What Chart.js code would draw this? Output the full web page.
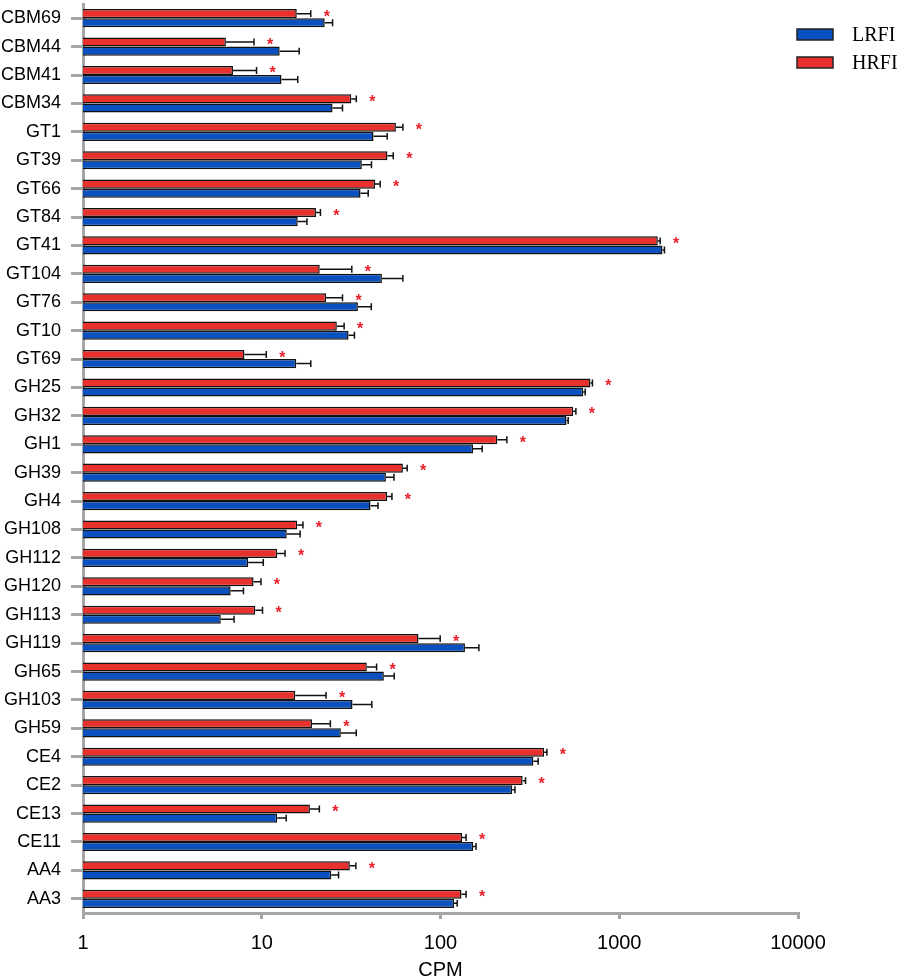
<!DOCTYPE html>
<html>
<head>
<meta charset="utf-8">
<script src="https://cdn.jsdelivr.net/npm/chart.js"></script>
<style>
  body { margin: 0; background: #fff; }
  canvas { display: block; }
</style>
</head>
<body>
<canvas id="TAG" width="903" height="980"></canvas>
<script>
var labels = ["CBM69", "CBM44", "CBM41", "CBM34", "GT1", "GT39", "GT66", "GT84", "GT41", "GT104", "GT76", "GT10", "GT69",
  "GH25", "GH32", "GH1", "GH39", "GH4", "GH108", "GH112", "GH120", "GH113", "GH119", "GH65", "GH103", "GH59",
  "CE4", "CE2", "CE13", "CE11", "AA4", "AA3"];

var lrfi = [22.5, 12.6, 12.9, 24.9, 42.2, 36.3, 35.7, 15.9, 1745, 47.0, 34.5, 30.6, 15.6,
  628, 507, 152, 49.5, 40.6, 13.8, 8.4, 6.7, 5.9, 137, 48.2, 32.2, 27.7,
  331, 252, 12.2, 152, 24.5, 119];
var lrfiErr = [2.4, 3.6, 3.0, 3.4, 8.1, 4.8, 3.7, 2.0, 45, 14.6, 6.5, 2.4, 3.2,
  17, 11, 19, 5.4, 4.1, 2.6, 1.8, 1.2, 1.1, 27, 6.9, 9.1, 6.1,
  21, 9, 1.5, 6, 2.4, 5];

var hrfi = [15.7, 6.3, 6.9, 31.7, 56.3, 50.5, 43.0, 20.1, 1643, 21.1, 22.9, 26.3, 8.0,
  690, 552, 208, 61.6, 50.3, 15.8, 12.2, 9.0, 9.2, 75.3, 38.7, 15.4, 19.1,
  380, 288, 18.6, 132, 31.1, 131];
var hrfiErr = [3.1, 2.75, 2.45, 2.1, 5.3, 3.9, 3.0, 1.2, 51, 10.8, 5.4, 2.6, 2.6,
  18, 20, 27, 3.5, 3.2, 1.2, 1.3, 0.9, 0.9, 24.3, 5.2, 7.5, 5.1,
  14, 11, 2.4, 7, 2.5, 8];

var xTicks = [1, 10, 100, 1000, 10000];

var BLUE = "#0b50bf";
var RED = "#e8302d";
var AXIS = "#a6a6a6";

// error bars (mean + sem) drawn with the x scale
var errorBars = {
  id: "errorBars",
  afterDatasetsDraw: function (chart) {
    var ctx = chart.ctx;
    var xs = chart.scales.x;
    ctx.save();
    ctx.strokeStyle = "#111";
    ctx.lineWidth = 1.5;
    chart.data.datasets.forEach(function (ds, di) {
      var meta = chart.getDatasetMeta(di);
      meta.data.forEach(function (bar, i) {
        var x1 = xs.getPixelForValue(ds.data[i] + ds.err[i]);
        var h = bar.height * 0.38;
        ctx.beginPath();
        ctx.moveTo(bar.x, bar.y);
        ctx.lineTo(x1, bar.y);
        ctx.moveTo(x1, bar.y - h);
        ctx.lineTo(x1, bar.y + h);
        ctx.stroke();
      });
    });
    // significance stars next to the HRFI bar
    var ds = chart.data.datasets[0];
    var meta = chart.getDatasetMeta(0);
    ctx.fillStyle = "#e8202a";
    ctx.font = "bold 16px 'Liberation Sans', Arial, sans-serif";
    ctx.textAlign = "center";
    ctx.textBaseline = "alphabetic";
    meta.data.forEach(function (bar, i) {
      var x = xs.getPixelForValue(ds.data[i] + ds.err[i]) + 16;
      ctx.fillText("*", x, bar.y + 8);
    });
    ctx.restore();
  }
};

// legend box top right, LRFI listed first
var sideLegend = {
  id: "sideLegend",
  afterDraw: function (chart) {
    var ctx = chart.ctx;
    var items = chart.data.datasets.slice().reverse();
    ctx.save();
    ctx.font = "20px 'Liberation Serif', 'Times New Roman', serif";
    ctx.textBaseline = "middle";
    ctx.textAlign = "left";
    items.forEach(function (ds, k) {
      var cy = 34.5 + k * 28;
      ctx.fillStyle = ds.backgroundColor;
      ctx.fillRect(797, cy - 5.5, 36, 11);
      ctx.strokeStyle = "#222";
      ctx.lineWidth = 1.5;
      ctx.strokeRect(797, cy - 5.5, 36, 11);
      ctx.fillStyle = "#000";
      ctx.fillText(ds.label, 852, cy + 1);
    });
    ctx.restore();
  }
};

var data = {
  labels: labels,
  datasets: [
    {
      label: "HRFI",
      data: hrfi,
      err: hrfiErr,
      backgroundColor: RED,
      borderColor: "#111",
      borderWidth: 1.5
    },
    {
      label: "LRFI",
      data: lrfi,
      err: lrfiErr,
      backgroundColor: BLUE,
      borderColor: "#111",
      borderWidth: 1.5
    }
  ]
};

var option = {
  responsive: false,
  animation: false,
  indexAxis: "y",
  categoryPercentage: 0.64,
  barPercentage: 1.0,
  layout: { padding: { top: 4, right: 105, left: 0, bottom: 0 } },
  plugins: {
    legend: { display: false },
    tooltip: { enabled: false }
  },
  scales: {
    x: {
      type: "logarithmic",
      min: 1,
      max: 10000,
      afterBuildTicks: function (scale) {
        scale.ticks = xTicks.map(function (v) { return { value: v, major: true }; });
      },
      afterFit: function (scale) { scale.height = 67; },
      ticks: {
        autoSkip: false,
        maxRotation: 0,
        padding: 12,
        color: "#000",
        font: { family: "'Liberation Sans', Arial, sans-serif", size: 20 },
        callback: function (v) { return String(v); }
      },
      grid: {
        display: true,
        drawOnChartArea: false,
        drawTicks: true,
        tickLength: 6,
        color: AXIS,
        lineWidth: 3
      },
      border: { display: true, color: AXIS, width: 3 },
      title: {
        display: true,
        text: "CPM",
        color: "#000",
        padding: { top: 0, bottom: 0 },
        font: { family: "'Liberation Sans', Arial, sans-serif", size: 20, lineHeight: 1 }
      }
    },
    y: {
      type: "category",
      afterFit: function (scale) {
        scale.width = 83;
        scale.paddingTop = 0;
        scale.paddingBottom = 0;
      },
      ticks: {
        padding: 10,
        color: "#000",
        font: { family: "'Liberation Sans', Arial, sans-serif", size: 18 }
      },
      grid: {
        display: true,
        offset: false,
        drawOnChartArea: false,
        drawTicks: true,
        tickLength: 12,
        color: AXIS,
        lineWidth: 3
      },
      border: { display: true, color: AXIS, width: 3 }
    }
  }
};

new Chart("TAG", {
  type: "bar",
  data: data,
  options: option,
  plugins: [errorBars, sideLegend]
});
</script>
</body>
</html>
